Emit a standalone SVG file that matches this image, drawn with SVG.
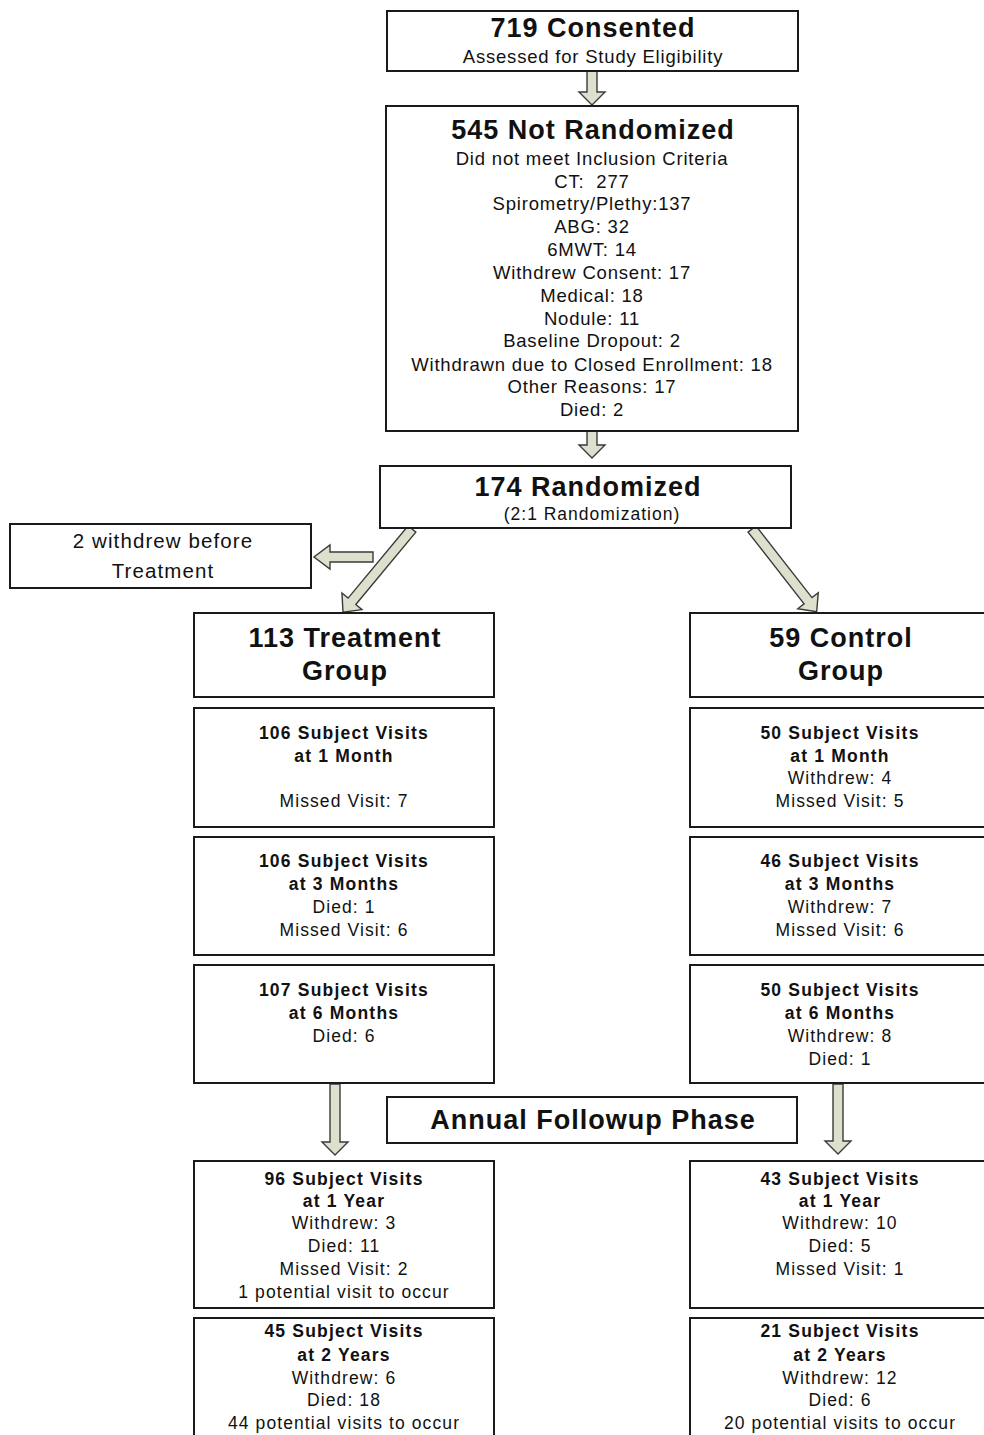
<svg xmlns="http://www.w3.org/2000/svg" width="984" height="1435" viewBox="0 0 984 1435">
<defs>
<style>
.box{fill:#fff;stroke:#1a1a1a;stroke-width:2}
.arr{fill:#dde0cc;stroke:#3a3a3a;stroke-width:1.4;stroke-linejoin:miter}
text{font-family:"Liberation Sans",Arial,sans-serif;fill:#111;text-anchor:middle}
.t{font-size:27px;font-weight:bold;letter-spacing:1px}
.s{font-size:18.5px;letter-spacing:0.8px}
.s17{font-size:17.5px;letter-spacing:1px}
.b{font-size:17.5px;font-weight:bold;letter-spacing:1.2px}
.r{font-size:17.5px;letter-spacing:1.1px}
.w{font-size:20.5px;letter-spacing:1.1px}
</style>
</defs>
<g id="connectors">
<polygon class="arr" points="587,71 597,71 597,92 605,92 592,105 579,92 587,92"/>
<polygon class="arr" points="587,431 597,431 597,445 605,445 592,458 579,445 587,445"/>
<polygon class="arr" points="373,552 373,562 330,562 330,569 314,557 330,545 330,552"/>
<g transform="translate(412,529) rotate(39.7)"><polygon class="arr" points="-5,0 5,0 5,94 13,94 0,108 -13,94 -5,94"/></g>
<g transform="translate(752,529) rotate(-38)"><polygon class="arr" points="-5,0 5,0 5,91 13,91 0,105 -13,91 -5,91"/></g>
<polygon class="arr" points="330,1084 340,1084 340,1142 348,1142 335,1155 322,1142 330,1142"/>
<polygon class="arr" points="833,1084 843,1084 843,1141 851,1141 838,1154 825,1141 833,1141"/>
</g>
<g id="n-consented">
<rect class="box" x="387" y="11" width="411" height="60"/>
<text class="t" x="593" y="37">719 Consented</text>
<text class="s" x="593" y="63">Assessed for Study Eligibility</text>
</g>
<g id="n-notrandomized">
<rect class="box" x="386" y="106" width="412" height="325"/>
<text class="t" x="593" y="139">545 Not Randomized</text>
<text class="s" x="592" y="165">Did not meet Inclusion Criteria</text>
<text class="s" x="592" y="188">CT:&#160; 277</text>
<text class="s" x="592" y="210">Spirometry/Plethy:137</text>
<text class="s" x="592" y="233">ABG: 32</text>
<text class="s" x="592" y="256">6MWT: 14</text>
<text class="s" x="592" y="279">Withdrew Consent: 17</text>
<text class="s" x="592" y="302">Medical: 18</text>
<text class="s" x="592" y="325">Nodule: 11</text>
<text class="s" x="592" y="347">Baseline Dropout: 2</text>
<text class="s" x="592" y="371">Withdrawn due to Closed Enrollment: 18</text>
<text class="s" x="592" y="393">Other Reasons: 17</text>
<text class="s" x="592" y="416">Died: 2</text>
</g>
<g id="n-randomized">
<rect class="box" x="380" y="466" width="411" height="62"/>
<text class="t" x="588" y="496">174 Randomized</text>
<text class="s17" x="592" y="520">(2:1 Randomization)</text>
</g>
<g id="n-withdrew">
<rect class="box" x="10" y="524" width="301" height="64"/>
<text class="w" x="163" y="548">2 withdrew before</text>
<text class="w" x="163" y="578">Treatment</text>
</g>
<g id="n-treatment">
<rect class="box" x="194" y="613" width="300" height="84"/>
<text class="t" x="345" y="647">113 Treatment</text>
<text class="t" x="345" y="680">Group</text>
</g>
<g id="n-control">
<rect class="box" x="690" y="613" width="300" height="84"/>
<text class="t" x="841" y="647">59 Control</text>
<text class="t" x="841" y="680">Group</text>
</g>
<g id="n-t1m">
<rect class="box" x="194" y="708" width="300" height="119"/>
<text class="b" x="344" y="739">106 Subject Visits</text>
<text class="b" x="344" y="762">at 1 Month</text>
<text class="r" x="344" y="807">Missed Visit: 7</text>
</g>
<g id="n-c1m">
<rect class="box" x="690" y="708" width="300" height="119"/>
<text class="b" x="840" y="739">50 Subject Visits</text>
<text class="b" x="840" y="762">at 1 Month</text>
<text class="r" x="840" y="784">Withdrew: 4</text>
<text class="r" x="840" y="807">Missed Visit: 5</text>
</g>
<g id="n-t3m">
<rect class="box" x="194" y="837" width="300" height="118"/>
<text class="b" x="344" y="867">106 Subject Visits</text>
<text class="b" x="344" y="890">at 3 Months</text>
<text class="r" x="344" y="913">Died: 1</text>
<text class="r" x="344" y="936">Missed Visit: 6</text>
</g>
<g id="n-c3m">
<rect class="box" x="690" y="837" width="300" height="118"/>
<text class="b" x="840" y="867">46 Subject Visits</text>
<text class="b" x="840" y="890">at 3 Months</text>
<text class="r" x="840" y="913">Withdrew: 7</text>
<text class="r" x="840" y="936">Missed Visit: 6</text>
</g>
<g id="n-t6m">
<rect class="box" x="194" y="965" width="300" height="118"/>
<text class="b" x="344" y="996">107 Subject Visits</text>
<text class="b" x="344" y="1019">at 6 Months</text>
<text class="r" x="344" y="1042">Died: 6</text>
</g>
<g id="n-c6m">
<rect class="box" x="690" y="965" width="300" height="118"/>
<text class="b" x="840" y="996">50 Subject Visits</text>
<text class="b" x="840" y="1019">at 6 Months</text>
<text class="r" x="840" y="1042">Withdrew: 8</text>
<text class="r" x="840" y="1065">Died: 1</text>
</g>
<g id="n-annual">
<rect class="box" x="387" y="1097" width="410" height="46"/>
<text class="t" x="593" y="1129">Annual Followup Phase</text>
</g>
<g id="n-t1y">
<rect class="box" x="194" y="1161" width="300" height="147"/>
<text class="b" x="344" y="1185">96 Subject Visits</text>
<text class="b" x="344" y="1207">at 1 Year</text>
<text class="r" x="344" y="1229">Withdrew: 3</text>
<text class="r" x="344" y="1252">Died: 11</text>
<text class="r" x="344" y="1275">Missed Visit: 2</text>
<text class="r" x="344" y="1298">1 potential visit to occur</text>
</g>
<g id="n-c1y">
<rect class="box" x="690" y="1161" width="300" height="147"/>
<text class="b" x="840" y="1185">43 Subject Visits</text>
<text class="b" x="840" y="1207">at 1 Year</text>
<text class="r" x="840" y="1229">Withdrew: 10</text>
<text class="r" x="840" y="1252">Died: 5</text>
<text class="r" x="840" y="1275">Missed Visit: 1</text>
</g>
<g id="n-t2y">
<rect class="box" x="194" y="1318" width="300" height="130"/>
<text class="b" x="344" y="1337">45 Subject Visits</text>
<text class="b" x="344" y="1361">at 2 Years</text>
<text class="r" x="344" y="1384">Withdrew: 6</text>
<text class="r" x="344" y="1406">Died: 18</text>
<text class="r" x="344" y="1429">44 potential visits to occur</text>
</g>
<g id="n-c2y">
<rect class="box" x="690" y="1318" width="300" height="130"/>
<text class="b" x="840" y="1337">21 Subject Visits</text>
<text class="b" x="840" y="1361">at 2 Years</text>
<text class="r" x="840" y="1384">Withdrew: 12</text>
<text class="r" x="840" y="1406">Died: 6</text>
<text class="r" x="840" y="1429">20 potential visits to occur</text>
</g>
</svg>
